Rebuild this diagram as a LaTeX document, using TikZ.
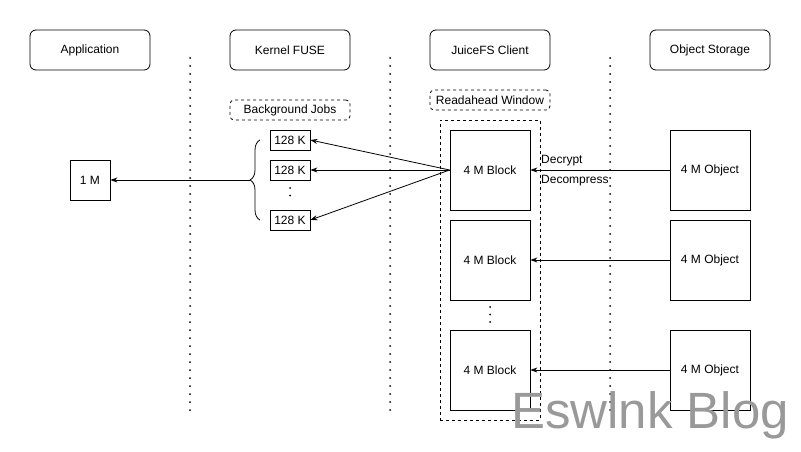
\documentclass[tikz,border=0pt]{standalone}
\usepackage{fontspec}
\setmainfont{Liberation Sans}
\usetikzlibrary{arrows.meta,decorations.pathreplacing}
\begin{document}
\begin{tikzpicture}[x=1pt,y=-1pt,
  font=\fontsize{12}{14}\selectfont,
  header/.style={draw,rounded corners=6pt,minimum width=120pt,minimum height=40pt,line width=0.8pt},
  tag/.style={draw,dashed,rounded corners=4pt,minimum width=120pt,minimum height=20pt,line width=0.8pt},
  blk/.style={draw,minimum width=80pt,minimum height=80pt,line width=0.8pt},
  small/.style={draw,minimum width=40pt,minimum height=20pt,inner sep=0pt,line width=0.8pt},
  sep/.style={line width=2pt,line cap=round,dash pattern=on 0pt off 8pt},
  arr/.style={-{Stealth[length=7pt,width=5pt]},line width=0.8pt},
  dotv/.style={line width=2pt,line cap=round,dash pattern=on 0pt off 7.5pt}]
\useasboundingbox (0,0) rectangle (801,452);
% separators
\draw[sep] (190,58) -- (190,410);
\draw[sep] (390,58) -- (390,410);
\draw[sep] (610,58) -- (610,410);
% headers
\node[header,fill=white] (app) at (90,50) {Application};
\node[header,fill=white] (fuse) at (290,50) {Kernel FUSE};
\node[header,fill=white] (client) at (490,50) {JuiceFS Client};
\node[header,fill=white] (os) at (710,50) {Object Storage};
% tags
\node[tag] (bg) at (290,110) {Background Jobs};
\node[tag] (ra) at (490,100) {Readahead Window};
% readahead window
\node[draw,dashed,line width=0.8pt,minimum width=100pt,minimum height=300pt] (win) at (490,270) {};
% blocks
\node[blk] (b1) at (490,170) {4 M Block};
\node[blk] (b2) at (490,260) {4 M Block};
\node[blk] (b3) at (490,370) {4 M Block};
\node[blk] (o1) at (710,170) {4 M Object};
\node[blk] (o2) at (710,260) {4 M Object};
\node[blk] (o3) at (710,370) {4 M Object};
\draw[dotv] (490,307) -- (490,325);
% 128K
\node[small] (k1) at (290,140) {128 K};
\node[small] (k2) at (290,170) {128 K};
\node[small] (k3) at (290,220) {128 K};
\draw[dotv] (290,188) -- (290,203);
% 1M
\node[draw,line width=0.8pt,minimum width=40pt,minimum height=40pt] (one) at (90,180) {1 M};
% brace
\draw[line width=0.8pt,decorate,decoration={brace,amplitude=10pt,raise=0pt}] (260,220) -- (260,140);
\coordinate (bt) at (250,180);
\draw[arr] (bt) -- (one.east);
% arrows
\draw[arr] (b1.west) -- (k1.east);
\draw[arr] (b1.west) -- (k2.east);
\draw[arr] (b1.west) -- (k3.east);
\draw[arr] (o1.west) -- (b1.east);
\draw[arr] (o2.west) -- (b2.east);
\draw[arr] (o3.west) -- (b3.east);
\node[anchor=west,inner sep=1pt] (dec) at (540,161) {Decrypt};
\node[anchor=west,inner sep=1pt] (dcm) at (540,181) {Decompress};
% watermark
\node[anchor=base west,inner sep=0pt,text=black!40,font=\fontsize{51}{51}\selectfont] (wm) at (511,428) {Eswlnk Blog};
\end{tikzpicture}
\end{document}
